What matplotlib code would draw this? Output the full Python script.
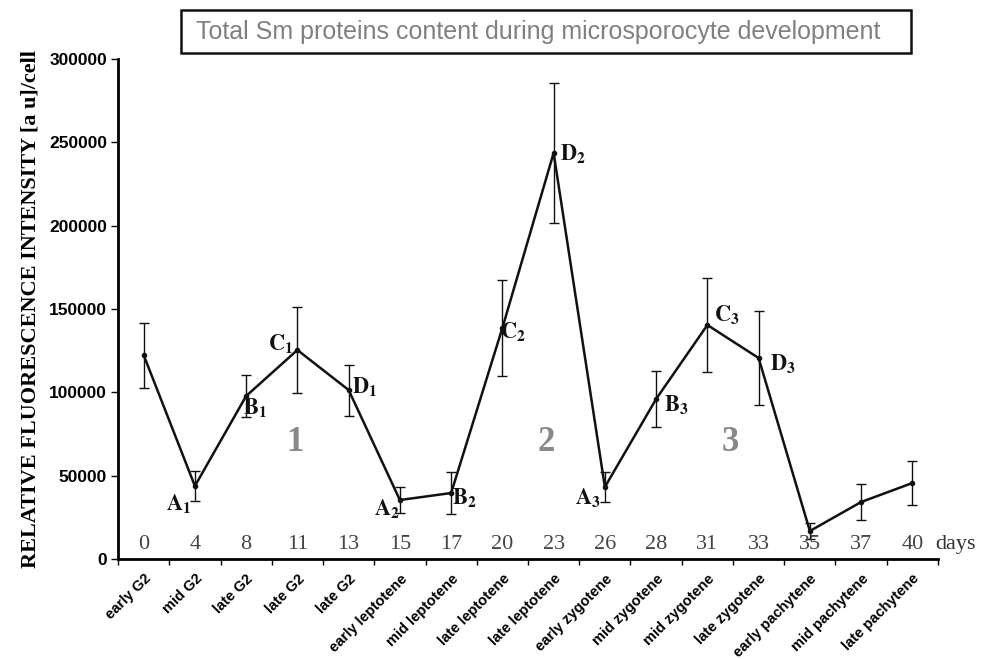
import numpy as np
import matplotlib
matplotlib.use("Agg")
import matplotlib.pyplot as plt
from matplotlib.patches import Rectangle
from matplotlib.font_manager import FontProperties

# data
stages = ["early G2", "mid G2", "late G2", "late G2", "late G2",
          "early leptotene", "mid leptotene", "late leptotene", "late leptotene",
          "early zygotene", "mid zygotene", "mid zygotene", "late zygotene",
          "early pachytene", "mid pachytene", "late pachytene"]
days = [0, 4, 8, 11, 13, 15, 17, 20, 23, 26, 28, 31, 33, 35, 37, 40]
intensity = [122400, 43800, 97800, 125400, 101400, 35400, 39600, 138600,
             243600, 43200, 96000, 140400, 120600, 16800, 34200, 45600]
err = [19500, 9000, 12600, 25800, 15300, 8000, 12600, 28800,
       42000, 9000, 17000, 28200, 28000, 5000, 10800, 13000]
point_labels = {1: ("A", "1"), 2: ("B", "1"), 3: ("C", "1"), 4: ("D", "1"),
                5: ("A", "2"), 6: ("B", "2"), 7: ("C", "2"), 8: ("D", "2"),
                9: ("A", "3"), 10: ("B", "3"), 11: ("C", "3"), 12: ("D", "3")}
# label offsets in pixels (dx, dy)
label_offsets = {1: (-16, -17), 2: (9, -11), 3: (-17, 7), 4: (16, 4),
                 5: (-13, -8), 6: (13, -4), 7: (11, -3), 8: (19, -1),
                 9: (-17, -10), 10: (20, -5), 11: (19, 11), 12: (24, -5)}
phases = ["1", "2", "3"]
phase_x = [2.95, 7.85, 11.45]
phase_y = 70000

plt.rcParams["mathtext.fontset"] = "stix"

fig = plt.figure(figsize=(9.86, 6.59), dpi=100)
ax = fig.add_axes([0.1197, 0.1517, 0.8316, 0.7588])

x = np.arange(len(stages))
ax.errorbar(x, intensity, yerr=err, color="#111111", lw=1.8, ecolor="#111111",
            elinewidth=1.0, capsize=3.5, capthick=1.0, marker="o", ms=3)

ytick_font = FontProperties(family="Liberation Sans", weight="bold", size=12.5)
xtick_font = FontProperties(family="Liberation Sans", weight="bold", size=10.5)

ax.set_xlim(-0.5, len(stages) - 0.5)
ax.set_ylim(0, 300000)
ax.set_yticks(np.arange(0, 300001, 50000))
ax.set_yticklabels([str(v) for v in range(0, 300001, 50000)], fontproperties=ytick_font)
ax.set_xticks(x)
ax.set_xticklabels(stages, rotation=45, ha="right", rotation_mode="anchor",
                   fontproperties=xtick_font)
ax.tick_params(axis="x", length=0, pad=9)
ax.set_xticks(np.arange(-0.5, len(stages)), minor=True)
ax.tick_params(axis="x", which="minor", length=4, width=1.0, direction="out")
ax.tick_params(axis="y", length=5, width=1.0, direction="out", pad=3)
for s in ["top", "right"]:
    ax.spines[s].set_visible(False)
for s in ["left", "bottom"]:
    ax.spines[s].set_linewidth(2)

ax.set_ylabel("RELATIVE FLUORESCENCE INTENSITY [a u]/cell",
              fontfamily="Liberation Serif", fontweight="bold", fontsize=16, labelpad=6)

# day numbers
for i, d in enumerate(days):
    ax.text(x[i], 8500, str(d), ha="center", va="center",
            fontfamily="Liberation Serif", fontsize=16, color="#444444")
ax.text(15.44, 8500, "days", ha="left", va="center",
        fontfamily="Liberation Serif", fontsize=16, color="#333333", clip_on=False)

# point labels
for i, (letter, num) in point_labels.items():
    dx, dy = label_offsets[i]
    ax.annotate(r"$\mathbf{%s}_{\mathbf{%s}}$" % (letter, num), (x[i], intensity[i]),
                xytext=(dx, dy), textcoords="offset pixels",
                ha="center", va="center", fontsize=16, color="#111111")

# phase numbers
for px, p in zip(phase_x, phases):
    ax.text(px, phase_y, p, ha="center", va="center", fontfamily="Liberation Serif",
            fontweight="bold", fontsize=25, color="#888888")

# title box
fig.patches.append(Rectangle((181 / 986, 1 - 53 / 659), 730 / 986, 43 / 659,
                             transform=fig.transFigure, fc="white", ec="#111111", lw=1.8))
fig.text(538 / 986, 1 - 32 / 659, "Total Sm proteins content during microsporocyte development",
         ha="center", va="center", fontfamily="Liberation Sans", fontsize=18,
         color="#808080")

fig.savefig("out.png", dpi=100)
